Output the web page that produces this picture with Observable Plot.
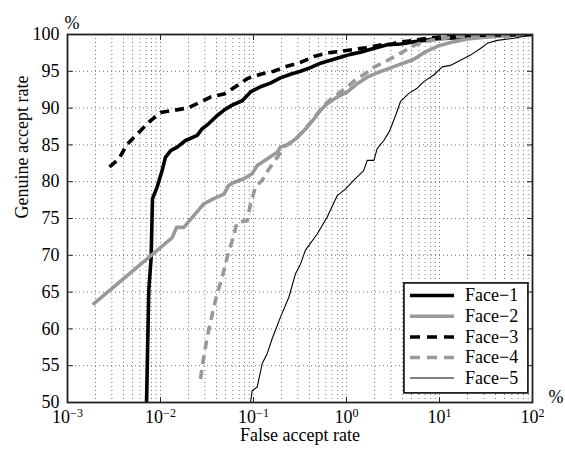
<!DOCTYPE html>
<html>
<head>
<meta charset="utf-8">
<script src="https://cdn.jsdelivr.net/npm/d3@7"></script>
<script src="https://cdn.jsdelivr.net/npm/@observablehq/plot@0.6"></script>
<style>
  html, body { margin: 0; padding: 0; background: #fff; }
  #wrap { position: relative; width: 565px; height: 450px; }
  #legend { position: absolute; left: 403px; top: 282px; }
</style>
</head>
<body>
<div id="wrap"></div>
<script>
// ---- data ----
const seriesNames = ["Face\u22121", "Face\u22122", "Face\u22123", "Face\u22124", "Face\u22125"];

const face1Far = [0.00708, 0.00748, 0.00794, 0.0082, 0.00922, 0.0104, 0.0113, 0.0128, 0.0151, 0.0186, 0.0248, 0.0281, 0.0331, 0.0407, 0.048, 0.059, 0.0756, 0.093, 0.119, 0.152, 0.195, 0.25, 0.32, 0.41, 0.525, 0.673, 0.861, 1.10, 1.41, 1.95, 2.74, 3.81, 5.25, 8.6, 18.1, 42, 100];
const face1Gar = [50, 65.2, 69.8, 77.7, 79.3, 81.5, 83.3, 84.2, 84.7, 85.6, 86.3, 87.2, 87.9, 89.0, 89.7, 90.4, 91.0, 92.2, 92.9, 93.4, 94.1, 94.6, 95.0, 95.5, 96.1, 96.5, 96.9, 97.3, 97.6, 98.1, 98.6, 98.7, 99.0, 99.4, 99.6, 99.8, 100];

const face2Far = [0.00187, 0.01336, 0.0149, 0.0178, 0.0228, 0.0292, 0.0374, 0.048, 0.0542, 0.0613, 0.0787, 0.0968, 0.1096, 0.14, 0.18, 0.195, 0.24, 0.295, 0.378, 0.445, 0.525, 0.62, 0.794, 1.02, 1.30, 1.67, 2.14, 2.74, 3.51, 5.25, 6.73, 9.44, 13.1, 19.9, 35.3, 100];
const face2Gar = [63.3, 72.4, 73.8, 73.8, 75.4, 77.0, 77.7, 78.3, 79.5, 79.9, 80.4, 81.1, 82.2, 83.1, 84.0, 84.7, 85.1, 86.0, 87.4, 88.5, 89.7, 90.6, 91.5, 92.2, 93.3, 94.2, 94.8, 95.3, 95.8, 96.6, 97.5, 98.4, 98.9, 99.4, 99.7, 100];

const face3Far = [0.00283, 0.00356, 0.00439, 0.00585, 0.0075, 0.01, 0.0139, 0.0194, 0.0248, 0.0345, 0.048, 0.064, 0.0855, 0.119, 0.165, 0.23, 0.32, 0.445, 0.62, 0.861, 1.10, 1.6, 2.4, 3.1, 3.5, 5.25, 7.7, 13.5, 26, 100];
const face3Gar = [82.0, 83.1, 85.1, 86.7, 88.1, 89.4, 89.7, 90.0, 90.6, 91.5, 91.9, 92.9, 94.0, 94.6, 95.0, 95.7, 96.2, 97.0, 97.5, 97.7, 97.9, 98.2, 98.6, 98.7, 98.9, 99.2, 99.5, 99.8, 99.9, 100];

const face4Far = [0.0269, 0.0292, 0.0318, 0.036, 0.0407, 0.046, 0.052, 0.059, 0.0668, 0.0855, 0.093, 0.105, 0.124, 0.146, 0.18, 0.212, 0.295, 0.36, 0.445, 0.525, 0.62, 0.8, 1.0, 1.3, 1.65, 2.0, 2.6, 3.5, 5.5, 8, 15, 30, 100];
const face4Gar = [53.2, 56.2, 58.9, 62.0, 64.8, 67.0, 69.7, 72.0, 74.5, 74.7, 77.0, 79.3, 80.2, 81.7, 83.3, 84.7, 86.0, 87.2, 88.6, 89.8, 90.8, 91.9, 92.8, 94.0, 94.8, 95.6, 96.3, 97.2, 98.6, 99.2, 99.7, 99.8, 100];

const face5Far = [0.093, 0.0968, 0.1096, 0.124, 0.14, 0.159, 0.195, 0.24, 0.283, 0.32, 0.362, 0.484, 0.62, 0.794, 0.975, 1.20, 1.53, 1.67, 1.97, 2.14, 2.52, 2.85, 2.97, 3.37, 3.81, 4.68, 5.75, 6.78, 8.68, 10.7, 13.1, 16.8, 21.5, 27.6, 32.6, 41.7, 63, 100];
const face5Gar = [50, 51.6, 52.1, 55.3, 56.6, 58.7, 61.6, 64.3, 67.5, 68.8, 70.7, 72.9, 75.2, 78.1, 79.0, 80.2, 81.5, 82.9, 82.9, 84.5, 85.6, 86.7, 87.2, 89.0, 90.9, 92.0, 92.7, 93.6, 94.5, 95.6, 95.8, 96.5, 97.2, 98.1, 98.8, 99.2, 99.5, 100];

const xTicks = [0.001, 0.01, 0.1, 1, 10, 100];
const xTickExponents = ["\u22123", "\u22122", "\u22121", "0", "1", "2"];
const yTicks = [50, 55, 60, 65, 70, 75, 80, 85, 90, 95, 100];
const xGridMultipliers = [1, 2, 3, 4, 5, 6, 7, 8, 9];
const xLabel = "False accept rate";
const yLabel = "Genuine accept rate";

// ---- styles ----
const styles = [
  {stroke: "#000", width: 3.6, dash: null},
  {stroke: "#999", width: 3.6, dash: null},
  {stroke: "#000", width: 3.6, dash: "9,6"},
  {stroke: "#999", width: 3.6, dash: "9,6"},
  {stroke: "#000", width: 1.1, dash: null}
];

const farArrays = [face1Far, face2Far, face3Far, face4Far, face5Far];
const garArrays = [face1Gar, face2Gar, face3Gar, face4Gar, face5Gar];
const tables = farArrays.map((fa, i) => fa.map((f, j) => ({far: f, gar: garArrays[i][j]})));

const xGrid = [];
[0.001, 0.01, 0.1, 1, 10].forEach(dec => xGridMultipliers.forEach(m => xGrid.push(m * dec)));
xGrid.push(100);

const tickShape = {draw(ctx, l) { ctx.moveTo(0, 0); ctx.lineTo(0, -l); }};
const tickOpts = {length: 5, anchor: "start", shape: tickShape, stroke: "#222", strokeWidth: 1};

const lineMarks = tables.map((t, i) => Plot.line(t, {
  x: "far", y: "gar",
  stroke: styles[i].stroke, strokeWidth: styles[i].width,
  strokeDasharray: styles[i].dash, strokeLinejoin: "round", strokeLinecap: "butt",
  clip: true
}));

const chart = Plot.plot({
  width: 565,
  height: 450,
  marginLeft: 67,
  marginRight: 33,
  marginTop: 34,
  marginBottom: 48,
  style: {fontFamily: "'Liberation Serif', 'Times New Roman', serif", fontSize: "18px", color: "#000", background: "#fff"},
  x: {type: "log", domain: [0.001, 100]},
  y: {domain: [50, 100]},
  marks: [
    Plot.ruleX(xGrid, {stroke: "#777", strokeWidth: 1, strokeDasharray: "1,3"}),
    Plot.ruleY(yTicks, {stroke: "#777", strokeWidth: 1, strokeDasharray: "1,3"}),
    ...lineMarks,
    Plot.vector(xTicks, {x: d => d, frameAnchor: "bottom", rotate: 0, ...tickOpts}),
    Plot.vector(xTicks, {x: d => d, frameAnchor: "top", rotate: 180, ...tickOpts}),
    Plot.vector(yTicks, {y: d => d, frameAnchor: "left", rotate: 90, ...tickOpts}),
    Plot.vector(yTicks, {y: d => d, frameAnchor: "right", rotate: -90, ...tickOpts}),
    Plot.frame({stroke: "#222", strokeWidth: 1.8}),
    Plot.axisX({ticks: xTicks, tickSize: 0, tickPadding: 8, label: null,
      tickFormat: d => "10^" + xTickExponents[xTicks.indexOf(d)], fontSize: 18}),
    Plot.axisY({ticks: yTicks, tickSize: 0, tickPadding: 8, label: null, fontSize: 18}),
    Plot.text([xLabel], {frameAnchor: "bottom", dy: 38, fontSize: 18}),
    Plot.text([yLabel], {frameAnchor: "left", dx: -45, rotate: -90, fontSize: 18}),
    Plot.text(["%"], {frameAnchor: "top-left", dx: -3, dy: -18, textAnchor: "start", fontSize: 18}),
    Plot.text(["%"], {frameAnchor: "bottom-right", dx: 16, dy: 0, textAnchor: "start", fontSize: 18})
  ]
});

// superscript exponents on x tick labels
chart.querySelectorAll('g[aria-label="x-axis tick label"] text').forEach(t => {
  const s = t.textContent;
  const m = s.match(/^10\^(.*)$/);
  if (!m) return;
  t.textContent = "10";
  const ts = document.createElementNS("http://www.w3.org/2000/svg", "tspan");
  ts.setAttribute("dy", "-6");
  ts.setAttribute("font-size", "12");
  ts.textContent = m[1];
  t.appendChild(ts);
});

const wrap = document.getElementById("wrap");
wrap.appendChild(chart);

// ---- legend ----
const lg = d3.select(wrap).append("svg").attr("id", "legend")
  .attr("width", 126).attr("height", 112)
  .style("font-family", "'Liberation Serif', 'Times New Roman', serif")
  .style("font-size", "18px");
lg.append("rect").attr("x", 0.9).attr("y", 0.9).attr("width", 124).attr("height", 110)
  .attr("fill", "#fff").attr("stroke", "#222").attr("stroke-width", 1.8);
const rowY = [13.5, 34.3, 55, 75.5, 96];
seriesNames.forEach((name, i) => {
  lg.append("line").attr("x1", 7).attr("x2", 51).attr("y1", rowY[i]).attr("y2", rowY[i])
    .attr("stroke", styles[i].stroke).attr("stroke-width", styles[i].width)
    .attr("stroke-dasharray", styles[i].dash ? "10,7" : null);
  lg.append("text").attr("x", 62).attr("y", rowY[i]).attr("dy", "0.33em").text(name);
});
</script>
</body>
</html>
